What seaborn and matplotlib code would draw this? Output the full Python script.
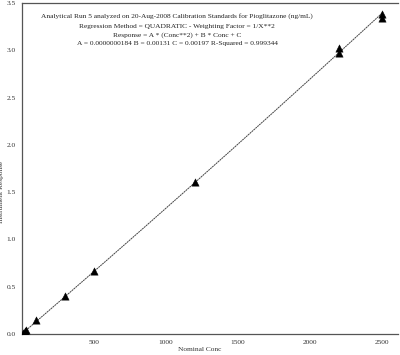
import numpy as np
import pandas as pd
import matplotlib
matplotlib.use("Agg")
import matplotlib.pyplot as plt
import seaborn as sns

# Calibration standards
conc = [10, 20, 30, 100, 300, 500, 1200, 2200, 2200, 2500, 2500]
response = [0.015, 0.028, 0.040, 0.153, 0.400, 0.663, 1.605, 3.025, 2.975, 3.380, 3.345]

# Regression coefficients shown on the chart
coef_A = 0.0000000184
coef_B = 0.00131
coef_C = 0.00197
fit_range = [0, 2500]

title_lines = [
    "Analytical Run 5 analyzed on 20-Aug-2008 Calibration Standards for Pioglitazone (ng/mL)",
    "Regression Method = QUADRATIC - Weighting Factor = 1/X**2",
    "Response = A * (Conc**2) + B * Conc + C",
    "A = 0.0000000184 B = 0.00131 C = 0.00197 R-Squared = 0.999344",
]
xticks = [500, 1000, 1500, 2000, 2500]
yticks = [0.0, 0.5, 1.0, 1.5, 2.0, 2.5, 3.0, 3.5]

sns.set_theme(style="white")
plt.rcParams["font.family"] = ["Liberation Serif", "DejaVu Serif"]

fig = plt.figure(figsize=(4.0, 3.55), dpi=100)
ax = fig.add_axes([0.055, 0.0592, 0.94, 0.9323])

fx = np.linspace(fit_range[0], fit_range[1], 300)
fy = coef_A * fx**2 + coef_B * fx + coef_C
fit_df = pd.DataFrame({"x": fx, "y": fy})
sns.lineplot(data=fit_df, x="x", y="y", ax=ax, color="#444444", lw=0.7,
             linestyle=(0, (2, 0.6)))

df = pd.DataFrame({"Nominal Conc": conc, "Instrument Response": response})
sns.scatterplot(data=df, x="Nominal Conc", y="Instrument Response", ax=ax,
                marker="^", color="black", s=28, edgecolor="black", linewidth=0.3,
                zorder=3)

ax.set_xlim(0, 2611)
ax.set_ylim(0, 3.5)
ax.set_xticks(xticks)
ax.set_yticks(yticks)
ax.set_xticklabels([str(t) for t in xticks])
ax.set_yticklabels([f"{t:.1f}" for t in yticks])
ax.tick_params(axis="both", direction="inout", length=7, width=0.8,
               labelsize=5.3, colors="#333333", pad=1)
for side in ["left", "bottom", "top"]:
    ax.spines[side].set_visible(True)
    ax.spines[side].set_color("#555555")
    ax.spines[side].set_linewidth(0.9)
ax.spines["right"].set_visible(False)

ax.set_xlabel("Nominal Conc", fontsize=5.3, color="#333333")
ax.set_ylabel("Instrument Response", fontsize=5.3, color="#333333")
ax.xaxis.set_label_coords(0.473, -0.038)
ax.yaxis.set_label_coords(-0.048, 0.43)

ys = [16, 26.5, 35.5, 44]
for line, yp in zip(title_lines, ys):
    fig.text(177 / 400, 1 - yp / 355, line, ha="center", va="center",
             fontsize=5.3, color="#222222")

fig.savefig("out.png", dpi=100, facecolor="white")
